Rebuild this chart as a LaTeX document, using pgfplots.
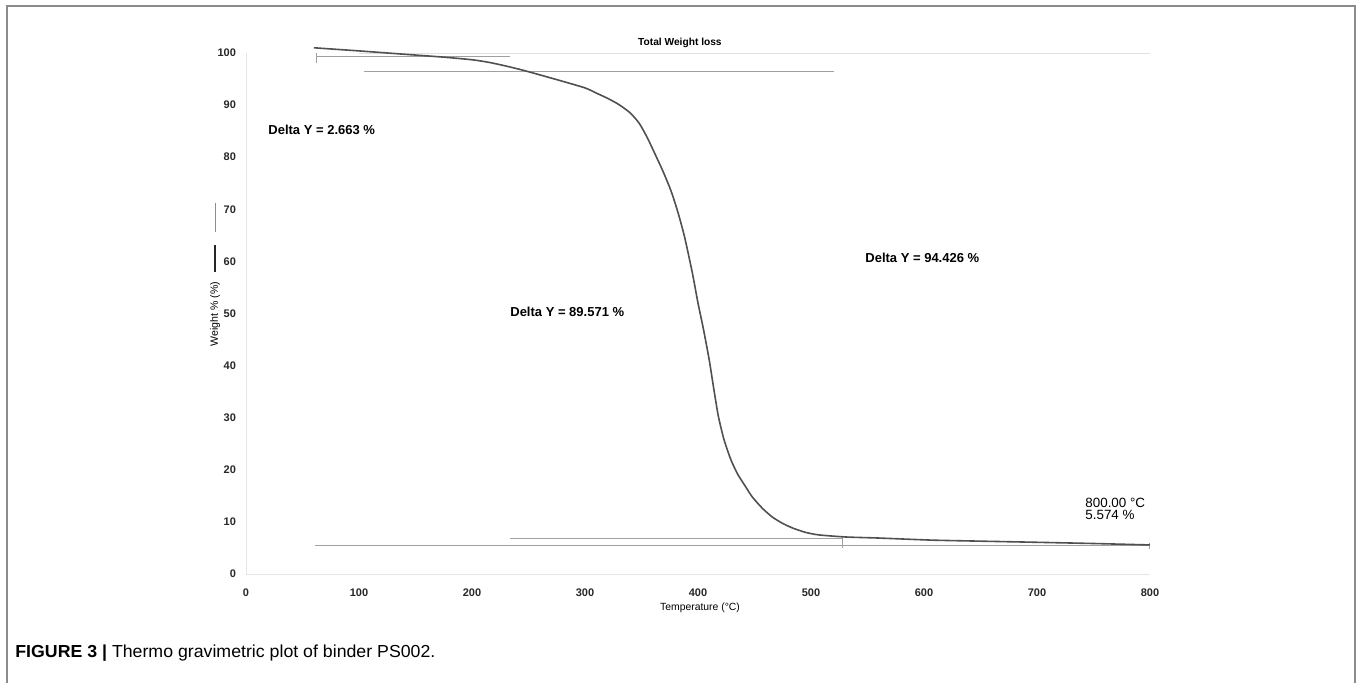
\documentclass[border=0pt]{standalone}
\usepackage{fontspec}
\setmainfont{Liberation Sans}
\usepackage{pgfplots}
\pgfplotsset{compat=1.18}
\definecolor{curve}{HTML}{505050}
\definecolor{tang}{HTML}{A0A0A0}
\definecolor{frame}{HTML}{8C8C8C}
\begin{document}
\begin{tikzpicture}[x=1pt,y=1pt]
\useasboundingbox (0,0) rectangle (680,341.5);
\draw[line width=1pt, color=frame] (3.5,-2) -- (3.5,338.5) -- (677.5,338.5) -- (677.5,-2);
\node[anchor=base west, inner sep=0] at (7.5,12.8) {\resizebox{210pt}{\height}{\fontsize{8.7}{10}\selectfont\textbf{FIGURE 3 |} Thermo gravimetric plot of binder PS002.}};
\begin{axis}[
  at={(123pt,54.5pt)}, anchor=south west,
  scale only axis, width=452pt, height=260.5pt,
  xmin=0, xmax=800, ymin=0, ymax=100,
  axis x line=bottom, axis y line=left,
  axis line style={draw=black!10, -},
  xtick={0,100,...,800}, ytick={0,10,...,100},
  major tick length=0pt,
  /pgf/number format/assume math mode=true,
  ticklabel style={font=\fontsize{5.5}{6}\selectfont\bfseries, color=black!85},
  yticklabel style={anchor=east, xshift=-1.5pt},
  xticklabel style={anchor=north, yshift=-4pt},
  clip=false,
]
% faint gridline at 100
\addplot[draw=black!12, line width=0.4pt] coordinates {(100,100) (800,100)};
% tangent construction lines
\addplot[draw=tang, line width=0.5pt] coordinates {(62,99.3) (233.6,99.3)};
\addplot[draw=tang, line width=0.5pt] coordinates {(62,100) (62,98.1)};
\addplot[draw=tang, line width=0.5pt] coordinates {(104,96.5) (520,96.5)};
\addplot[draw=tang, line width=0.5pt] coordinates {(61,5.4) (800,5.4)};
\addplot[draw=tang, line width=0.5pt] coordinates {(800,6.0) (800,4.8)};
\addplot[draw=tang, line width=0.5pt] coordinates {(233.6,6.85) (528,6.85)};
\addplot[draw=tang, line width=0.5pt] coordinates {(528,7.2) (528,5.0)};
% TGA curve
\addplot[draw=curve, line width=0.8pt, smooth, tension=0.4] coordinates {
(60,101.0) (80,100.7) (100,100.4) (125,100.0) (150,99.6) (175,99.2)
(200,98.7) (215,98.2) (230,97.5) (245,96.7) (260,95.8) (278,94.7)
(300,93.3) (310,92.3) (320,91.3) (330,90.1) (340,88.5) (348,86.5)
(355,83.8) (362,80.6) (369,77.3) (376,73.6) (382,69.6) (388,64.8)
(395,57.8) (400,52.0) (405,46.8) (410,41.0) (414,35.5) (418,30.3)
(423,25.8) (429,22.0) (435,19.2) (442,16.8) (448,14.8) (457,12.6)
(466,10.9) (475,9.7) (484,8.8) (495,8.0) (507,7.5) (531,7.1)
(560,6.9) (607,6.5) (650,6.3) (696,6.1) (750,5.85) (800,5.574)
};
% annotations
\node[font=\fontsize{5.1}{6}\selectfont\bfseries] at (axis cs:384,101.9) {Total Weight loss};
\node[anchor=west, inner sep=0, font=\fontsize{6.5}{7}\selectfont\bfseries] at (axis cs:19.5,85.2) {Delta Y = 2.663 \%};
\node[anchor=west, inner sep=0, font=\fontsize{6.5}{7}\selectfont\bfseries] at (axis cs:233.6,50.3) {Delta Y = 89.571 \%};
\node[anchor=west, inner sep=0, font=\fontsize{6.5}{7}\selectfont\bfseries] at (axis cs:547.8,60.7) {Delta Y = 94.426 \%};
\node[anchor=west, inner sep=0, align=left, font=\fontsize{6.7}{5.6}\selectfont] at (axis cs:742.5,12.5) {800.00 °C\\5.574 \%};
\node[font=\fontsize{5.2}{6}\selectfont] at (axis cs:401.8,-6.4) {Temperature (°C)};
\node[rotate=90, font=\fontsize{5.3}{6}\selectfont] at (axis cs:-27.4,49.9) {Weight \% (\%)};
\draw[color=black!45, line width=0.5pt] (axis cs:-27.4,71.2) -- (axis cs:-27.4,65.6);
\draw[color=black!85, line width=0.9pt] (axis cs:-27.4,63.1) -- (axis cs:-27.4,58.0);
\end{axis}
\end{tikzpicture}
\end{document}
